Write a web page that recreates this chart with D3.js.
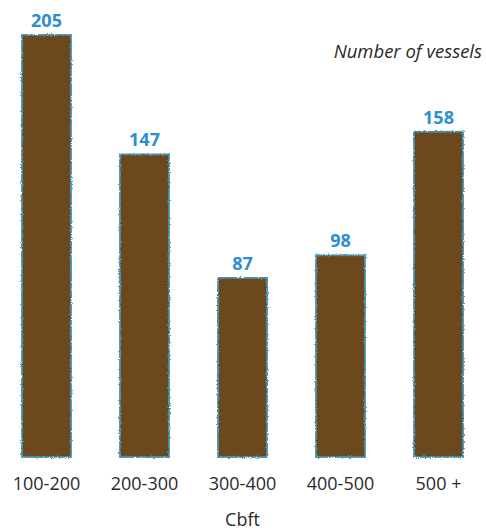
<!DOCTYPE html>
<html>
<head>
<meta charset="utf-8">
<script src="https://cdn.jsdelivr.net/npm/d3@7"></script>
<style>
  html, body { margin: 0; padding: 0; background: #fff; }
  svg { display: block; font-family: "Open Sans", "Noto Sans", sans-serif; }
</style>
</head>
<body>
<svg id="chart" width="486" height="530"></svg>
<script>
// Vessel counts by capacity band (cubic feet)
const categories = ["100-200", "200-300", "300-400", "400-500", "500 +"];
const vessels = [205, 147, 87, 98, 158];
const axisTitle = "Cbft";
const seriesTitle = "Number of vessels";

const svg = d3.select("#chart");
const baseY = 457, topY = 35;

const x = d3.scaleBand()
  .domain(categories)
  .range([22, 463])
  .paddingInner(0.5)
  .paddingOuter(0);

const y = d3.scaleLinear()
  .domain([0, d3.max(vessels)])
  .range([baseY, topY]);

// rough edge for the bars
const defs = svg.append("defs");
const f = defs.append("filter").attr("id", "rough")
  .attr("x", "-5%").attr("y", "-5%").attr("width", "110%").attr("height", "110%");
f.append("feTurbulence").attr("type", "fractalNoise").attr("baseFrequency", 0.7)
  .attr("numOctaves", 2).attr("seed", 3).attr("result", "noise");
f.append("feDisplacementMap").attr("in", "SourceGraphic").attr("in2", "noise")
  .attr("scale", 2.8).attr("xChannelSelector", "R").attr("yChannelSelector", "G");

const data = categories.map((c, i) => ({ c, v: vessels[i] }));

svg.append("g").selectAll("rect")
  .data(data)
  .join("rect")
  .attr("x", d => x(d.c))
  .attr("y", d => y(d.v))
  .attr("width", x.bandwidth())
  .attr("height", d => baseY - y(d.v))
  .attr("fill", "#6c4a1d")
  .attr("stroke", "#4a8fb0")
  .attr("stroke-width", 1.8)
  .attr("filter", "url(#rough)");

// value labels
svg.append("g").selectAll("text")
  .data(data)
  .join("text")
  .attr("x", d => x(d.c) + x.bandwidth() / 2)
  .attr("y", d => y(d.v) - 8)
  .attr("text-anchor", "middle")
  .attr("font-size", 18)
  .attr("font-weight", "bold")
  .attr("fill", "#2e8fd0")
  .text(d => d.v);

// category axis
const xAxis = svg.append("g")
  .attr("transform", `translate(0,${baseY})`)
  .call(d3.axisBottom(x).tickSize(0).tickPadding(20));
xAxis.select(".domain").remove();
xAxis.selectAll("text")
  .attr("font-size", 18)
  .attr("font-family", "\"Open Sans\", \"Noto Sans\", sans-serif")
  .attr("fill", "#2a2a2a");

svg.append("text")
  .attr("x", (x(categories[0]) + x(categories[4]) + x.bandwidth()) / 2)
  .attr("y", 526)
  .attr("text-anchor", "middle")
  .attr("font-size", 18)
  .attr("fill", "#2a2a2a")
  .text(axisTitle);

svg.append("text")
  .attr("x", 482)
  .attr("y", 58)
  .attr("text-anchor", "end")
  .attr("font-size", 18.5)
  .attr("font-style", "italic")
  .attr("fill", "#2a2a2a")
  .text(seriesTitle);
</script>
</body>
</html>
